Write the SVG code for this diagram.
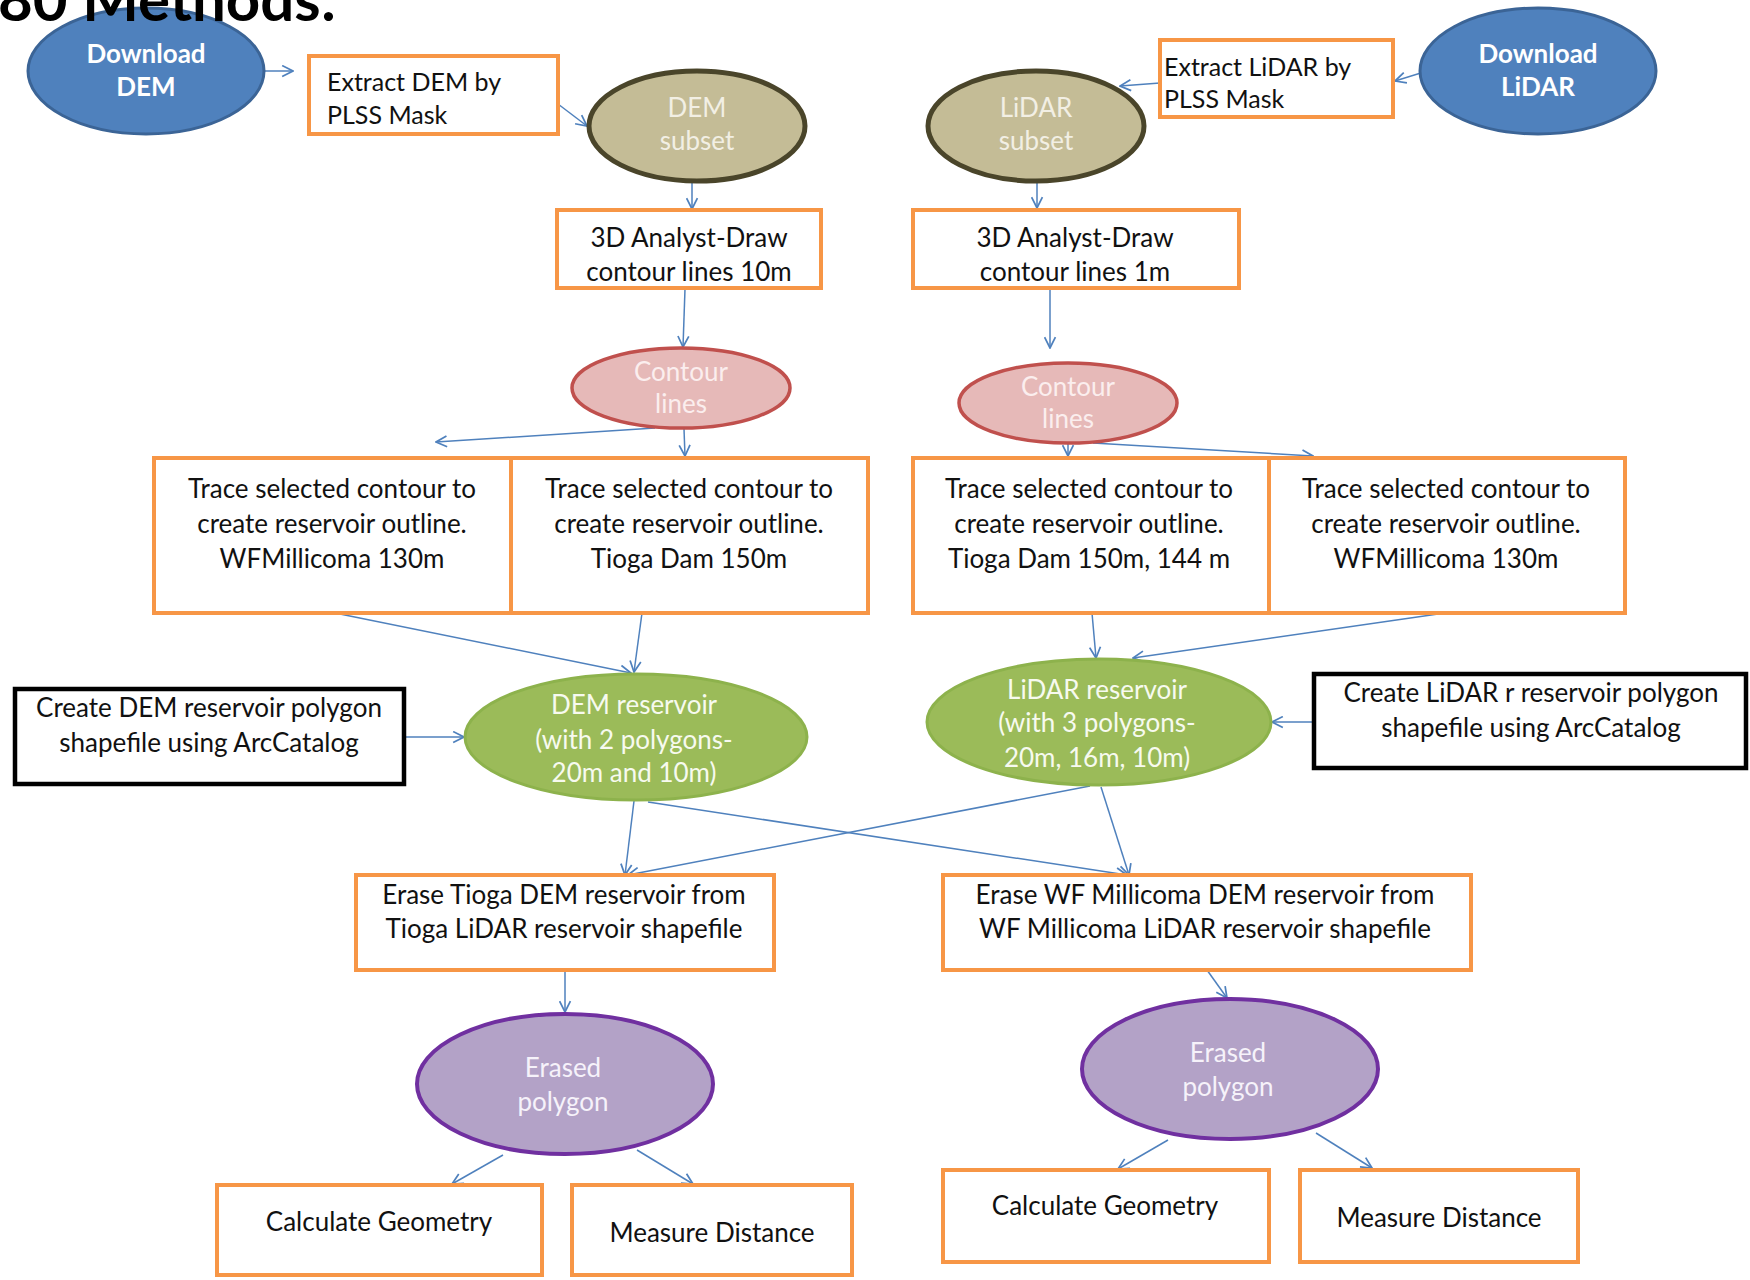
<svg xmlns="http://www.w3.org/2000/svg" width="1750" height="1280" viewBox="0 0 1750 1280">
<defs>
<marker id="arr" viewBox="0 0 12 12" refX="11" refY="6" markerWidth="13" markerHeight="13" markerUnits="userSpaceOnUse" orient="auto">
<path d="M1,1 L11,6 L1,11" fill="none" stroke="#4f81bd" stroke-width="1.6"/>
</marker>
<style>
.ob{fill:#ffffff;stroke:#f79646;stroke-width:4}
.bb{fill:#ffffff;stroke:#000000;stroke-width:4.5}
.t{font-family:Lato,"Liberation Sans",sans-serif;font-size:26px;fill:#111111;text-anchor:middle}
.tl{text-anchor:start;font-size:25px}
.w{font-family:Lato,"Liberation Sans",sans-serif;font-size:26px;text-anchor:middle}
.c line{stroke:#4f81bd;stroke-width:1.5;marker-end:url(#arr)}
</style>
</defs>
<rect width="1750" height="1280" fill="#ffffff"/>

<g id="connectors" class="c">
<line x1="265" y1="71" x2="293" y2="71"/>
<line x1="558" y1="104" x2="587" y2="126"/>
<line x1="692" y1="182" x2="692" y2="209"/>
<line x1="685" y1="289" x2="683" y2="347"/>
<line x1="655" y1="428" x2="436" y2="442"/>
<line x1="684" y1="429" x2="685" y2="456"/>
<line x1="1160" y1="83" x2="1120" y2="86"/>
<line x1="1424" y1="72" x2="1395" y2="81"/>
<line x1="1037" y1="182" x2="1037" y2="208"/>
<line x1="1050" y1="289" x2="1050" y2="348"/>
<line x1="1068" y1="443" x2="1068" y2="456"/>
<line x1="1093" y1="443" x2="1313" y2="456"/>
<line x1="335" y1="613" x2="631" y2="673"/>
<line x1="642" y1="613" x2="634" y2="672"/>
<line x1="1092" y1="613" x2="1096" y2="658"/>
<line x1="1445" y1="613" x2="1133" y2="658"/>
<line x1="405" y1="737" x2="464" y2="737"/>
<line x1="1313" y1="722" x2="1272" y2="722"/>
<line x1="634" y1="801" x2="625" y2="875"/>
<line x1="648" y1="802" x2="1127" y2="875"/>
<line x1="1090" y1="786" x2="628" y2="875"/>
<line x1="1101" y1="787" x2="1129" y2="875"/>
<line x1="565" y1="972" x2="565" y2="1012"/>
<line x1="1207" y1="970" x2="1227" y2="998"/>
<line x1="503" y1="1155" x2="452" y2="1184"/>
<line x1="637" y1="1150" x2="693" y2="1184"/>
<line x1="1168" y1="1140" x2="1118" y2="1169"/>
<line x1="1316" y1="1133" x2="1372" y2="1168"/>
</g>

<g id="download-dem">
<ellipse cx="146" cy="71" rx="118" ry="63" fill="#4f81bd" stroke="#3b6496" stroke-width="3"/>
<text class="w" x="146" y="63" fill="#ffffff" font-weight="bold">Download</text>
<text class="w" x="146" y="96" fill="#ffffff" font-weight="bold">DEM</text>
</g>
<g id="extract-dem">
<rect class="ob" x="309" y="56" width="249" height="78"/>
<text class="t tl" x="327" y="91">Extract DEM by</text>
<text class="t tl" x="327" y="124">PLSS Mask</text>
</g>
<g id="dem-subset">
<ellipse cx="697" cy="126" rx="108" ry="55" fill="#c4bc96" stroke="#4a452a" stroke-width="5"/>
<text class="w" x="697" y="117" fill="#f2efe4">DEM</text>
<text class="w" x="697" y="150" fill="#f2efe4">subset</text>
</g>
<g id="lidar-subset">
<ellipse cx="1036" cy="126" rx="108" ry="55" fill="#c4bc96" stroke="#4a452a" stroke-width="5"/>
<text class="w" x="1036" y="117" fill="#f2efe4">LiDAR</text>
<text class="w" x="1036" y="150" fill="#f2efe4">subset</text>
</g>
<g id="extract-lidar">
<rect class="ob" x="1160" y="40" width="233" height="77"/>
<text class="t tl" x="1164" y="76">Extract LiDAR by</text>
<text class="t tl" x="1164" y="108">PLSS Mask</text>
</g>
<g id="download-lidar">
<ellipse cx="1538" cy="71" rx="118" ry="63" fill="#4f81bd" stroke="#3b6496" stroke-width="3"/>
<text class="w" x="1538" y="63" fill="#ffffff" font-weight="bold">Download</text>
<text class="w" x="1538" y="96" fill="#ffffff" font-weight="bold">LiDAR</text>
</g>

<g id="draw-dem">
<rect class="ob" x="557" y="210" width="264" height="78"/>
<text class="t" x="689" y="247">3D Analyst-Draw</text>
<text class="t" x="689" y="281">contour lines 10m</text>
</g>
<g id="draw-lidar">
<rect class="ob" x="913" y="210" width="326" height="78"/>
<text class="t" x="1075" y="247">3D Analyst-Draw</text>
<text class="t" x="1075" y="281">contour lines 1m</text>
</g>

<g id="contour-dem">
<ellipse cx="681" cy="388" rx="109" ry="40" fill="#e6b9b8" stroke="#c0504d" stroke-width="3.5"/>
<text class="w" x="681" y="381" fill="#fbeeee">Contour</text>
<text class="w" x="681" y="413" fill="#fbeeee">lines</text>
</g>
<g id="contour-lidar">
<ellipse cx="1068" cy="403" rx="109" ry="40" fill="#e6b9b8" stroke="#c0504d" stroke-width="3.5"/>
<text class="w" x="1068" y="396" fill="#fbeeee">Contour</text>
<text class="w" x="1068" y="428" fill="#fbeeee">lines</text>
</g>

<g id="trace-dem-wf">
<rect class="ob" x="154" y="458" width="357" height="155"/>
<text class="t" x="332" y="498">Trace selected contour to</text>
<text class="t" x="332" y="533">create reservoir outline.</text>
<text class="t" x="332" y="568">WFMillicoma 130m</text>
</g>
<g id="trace-dem-tioga">
<rect class="ob" x="511" y="458" width="357" height="155"/>
<text class="t" x="689" y="498">Trace selected contour to</text>
<text class="t" x="689" y="533">create reservoir outline.</text>
<text class="t" x="689" y="568">Tioga Dam 150m</text>
</g>
<g id="trace-lidar-tioga">
<rect class="ob" x="913" y="458" width="356" height="155"/>
<text class="t" x="1089" y="498">Trace selected contour to</text>
<text class="t" x="1089" y="533">create reservoir  outline.</text>
<text class="t" x="1089" y="568">Tioga Dam 150m, 144 m</text>
</g>
<g id="trace-lidar-wf">
<rect class="ob" x="1269" y="458" width="356" height="155"/>
<text class="t" x="1446" y="498">Trace selected contour to</text>
<text class="t" x="1446" y="533">create reservoir outline.</text>
<text class="t" x="1446" y="568">WFMillicoma 130m</text>
</g>

<g id="create-dem-polygon">
<rect class="bb" x="15" y="689" width="389" height="95"/>
<text class="t" x="209" y="717">Create DEM reservoir polygon</text>
<text class="t" x="209" y="752">shapefile using ArcCatalog</text>
</g>
<g id="dem-reservoir">
<ellipse cx="636" cy="737" rx="171" ry="63" fill="#9bbb59" stroke="#8db24c" stroke-width="3"/>
<text class="w" x="634" y="714" fill="#f7faef">DEM reservoir</text>
<text class="w" x="634" y="749" fill="#f7faef">(with 2 polygons-</text>
<text class="w" x="634" y="782" fill="#f7faef">20m and 10m)</text>
</g>
<g id="lidar-reservoir">
<ellipse cx="1099" cy="722" rx="172" ry="63" fill="#9bbb59" stroke="#8db24c" stroke-width="3"/>
<text class="w" x="1097" y="699" fill="#f7faef">LiDAR reservoir</text>
<text class="w" x="1097" y="732" fill="#f7faef">(with 3 polygons-</text>
<text class="w" x="1097" y="767" fill="#f7faef">20m, 16m, 10m)</text>
</g>
<g id="create-lidar-polygon">
<rect class="bb" x="1314" y="674" width="432" height="94"/>
<text class="t" x="1531" y="702">Create LiDAR r reservoir polygon</text>
<text class="t" x="1531" y="737">shapefile using ArcCatalog</text>
</g>

<g id="erase-tioga">
<rect class="ob" x="356" y="875" width="418" height="95"/>
<text class="t" x="564" y="904">Erase Tioga DEM reservoir from</text>
<text class="t" x="564" y="938">Tioga  LiDAR reservoir shapefile</text>
</g>
<g id="erase-wf">
<rect class="ob" x="943" y="875" width="528" height="95"/>
<text class="t" x="1205" y="904">Erase WF Millicoma DEM reservoir from</text>
<text class="t" x="1205" y="938">WF Millicoma  LiDAR reservoir shapefile</text>
</g>

<g id="erased-polygon-tioga">
<ellipse cx="565" cy="1084" rx="148" ry="70" fill="#b3a2c7" stroke="#7030a0" stroke-width="4"/>
<text class="w" x="563" y="1077" fill="#f6f2fa">Erased</text>
<text class="w" x="563" y="1111" fill="#f6f2fa">polygon</text>
</g>
<g id="erased-polygon-wf">
<ellipse cx="1230" cy="1069" rx="148" ry="70" fill="#b3a2c7" stroke="#7030a0" stroke-width="4"/>
<text class="w" x="1228" y="1062" fill="#f6f2fa">Erased</text>
<text class="w" x="1228" y="1096" fill="#f6f2fa">polygon</text>
</g>

<g id="calc-geometry-tioga">
<rect class="ob" x="217" y="1185" width="325" height="90"/>
<text class="t" x="379" y="1231">Calculate Geometry</text>
</g>
<g id="measure-distance-tioga">
<rect class="ob" x="572" y="1185" width="280" height="90"/>
<text class="t" x="712" y="1242">Measure Distance</text>
</g>
<g id="calc-geometry-wf">
<rect class="ob" x="943" y="1170" width="326" height="92"/>
<text class="t" x="1105" y="1215">Calculate Geometry</text>
</g>
<g id="measure-distance-wf">
<rect class="ob" x="1300" y="1170" width="278" height="92"/>
<text class="t" x="1439" y="1227">Measure Distance</text>
</g>

<text id="title" x="-2" y="21" font-family="Lato,'Liberation Sans',sans-serif" font-weight="bold" font-size="60" fill="#000">80 Methods:</text>
</svg>
